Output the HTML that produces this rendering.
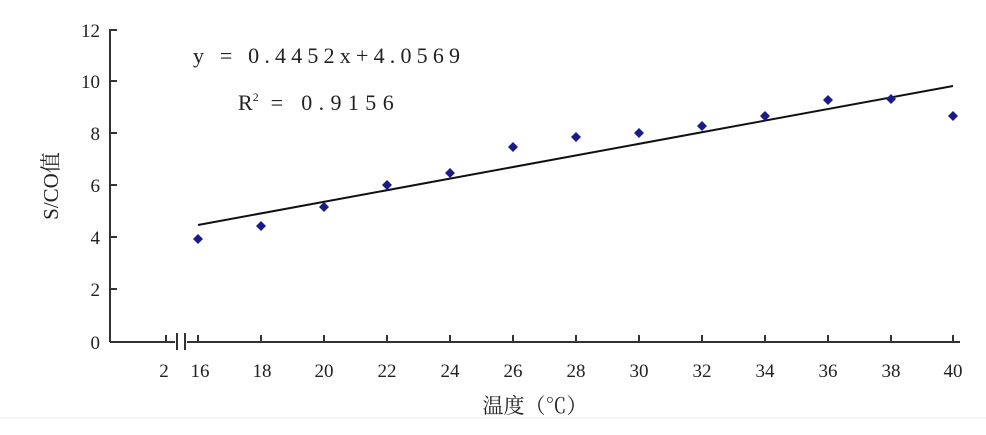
<!DOCTYPE html><html><head><style>body{margin:0;background:#fff}</style></head><body>
<svg width="986" height="430" xmlns="http://www.w3.org/2000/svg" font-family="'Liberation Serif','Noto Serif CJK SC',serif" font-size="19" fill="#222">
<line x1="0" y1="418" x2="986" y2="418" stroke="#eee"/>
<g stroke="#333" stroke-width="2">
<line x1="110" y1="29" x2="110" y2="342"/>
<line x1="110" y1="342" x2="175" y2="342"/>
<line x1="187" y1="342" x2="960" y2="342"/>
<line x1="177" y1="333" x2="177" y2="350"/><line x1="185" y1="333" x2="185" y2="350"/>
<line x1="110" y1="30" x2="117" y2="30"/><line x1="110" y1="81" x2="117" y2="81"/><line x1="110" y1="133" x2="117" y2="133"/><line x1="110" y1="185" x2="117" y2="185"/><line x1="110" y1="237" x2="117" y2="237"/><line x1="110" y1="289" x2="117" y2="289"/>
<line x1="166" y1="342" x2="166" y2="335"/>
</g>
<g stroke="#333" stroke-width="2">
<line x1="198" y1="342" x2="198" y2="335"/><line x1="261" y1="342" x2="261" y2="335"/><line x1="324" y1="342" x2="324" y2="335"/><line x1="387" y1="342" x2="387" y2="335"/><line x1="450" y1="342" x2="450" y2="335"/><line x1="513" y1="342" x2="513" y2="335"/><line x1="576" y1="342" x2="576" y2="335"/><line x1="639" y1="342" x2="639" y2="335"/><line x1="702" y1="342" x2="702" y2="335"/><line x1="765" y1="342" x2="765" y2="335"/><line x1="828" y1="342" x2="828" y2="335"/><line x1="891" y1="342" x2="891" y2="335"/><line x1="953" y1="342" x2="953" y2="335"/>
</g>
<g text-anchor="end"><text x="100" y="37">12</text><text x="100" y="88">10</text><text x="100" y="140">8</text><text x="100" y="192">6</text><text x="100" y="244">4</text><text x="100" y="296">2</text><text x="100" y="349">0</text></g>
<g text-anchor="middle"><text x="164" y="377">2</text><text x="200" y="377">16</text><text x="262" y="377">18</text><text x="324" y="377">20</text><text x="387" y="377">22</text><text x="450" y="377">24</text><text x="513" y="377">26</text><text x="576" y="377">28</text><text x="639" y="377">30</text><text x="702" y="377">32</text><text x="765" y="377">34</text><text x="828" y="377">36</text><text x="891" y="377">38</text><text x="953" y="377">40</text>
<text x="535" y="413" font-size="21">温度（℃）</text>
<text transform="translate(58,186) rotate(-90)" font-size="21">S/CO值</text></g>
<text x="193" y="63" font-size="22" textLength="267" lengthAdjust="spacing">y = 0.4452x+4.0569</text>
<text x="238" y="110" font-size="22">R<tspan font-size="12" dy="-9">2</tspan><tspan dy="9" textLength="135" lengthAdjust="spacing"> = 0.9156</tspan></text>
<line x1="198" y1="225" x2="953" y2="86" stroke="#111" stroke-width="2"/>
<g fill="#1a1a8a">
<path d="M198 234l5 5-5 5-5-5z"/><path d="M261 221l5 5-5 5-5-5z"/><path d="M324 202l5 5-5 5-5-5z"/><path d="M387 180l5 5-5 5-5-5z"/><path d="M450 168l5 5-5 5-5-5z"/><path d="M513 142l5 5-5 5-5-5z"/><path d="M576 132l5 5-5 5-5-5z"/><path d="M639 128l5 5-5 5-5-5z"/><path d="M702 121l5 5-5 5-5-5z"/><path d="M765 111l5 5-5 5-5-5z"/><path d="M828 95l5 5-5 5-5-5z"/><path d="M891 94l5 5-5 5-5-5z"/><path d="M953 111l5 5-5 5-5-5z"/>
</g>
</svg>
</body></html>
